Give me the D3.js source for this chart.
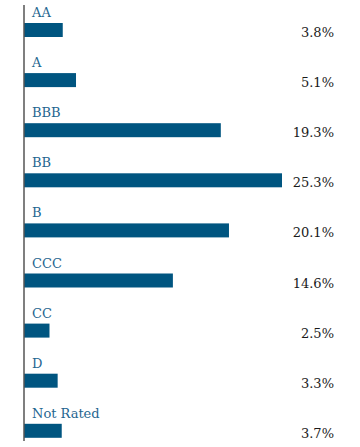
<!DOCTYPE html>
<html><head><meta charset="utf-8">
<script src="https://cdn.jsdelivr.net/npm/d3@7"></script>
<style>body{margin:0;background:#fff}svg{display:block}</style>
</head><body>
<script>
const categories = ["AA","A","BBB","BB","B","CCC","CC","D","Not Rated"];
const values = [3.8,5.1,19.3,25.3,20.1,14.6,2.5,3.3,3.7];
const valueLabels = ["3.8%","5.1%","19.3%","25.3%","20.1%","14.6%","2.5%","3.3%","3.7%"];

const W=360,H=447;
const svg=d3.select("body").append("svg").attr("width",W).attr("height",H);
const x0=24;
const x=d3.scaleLinear().domain([0,25.3]).range([x0,282]);
const y=d3.scaleBand().domain(categories).range([23-36,23+9*50.1-36]).paddingInner(0);
// band start so bar sits at bottom part of each band
const barH=14;
const g=svg.append("g");
categories.forEach((c,i)=>{
  const top=y(c)+36;
  g.append("rect").attr("x",x(0)).attr("y",top).attr("width",x(values[i])-x(0)).attr("height",barH)
    .attr("fill","#005580");
  g.append("text").attr("x",x0+8).attr("y",top-6).text(c)
    .attr("font-family","'DejaVu Serif', 'Liberation Serif', serif").attr("font-size",13)
    .attr("fill","#1f6690");
  g.append("text").attr("x",334).attr("y",top+14).attr("text-anchor","end").text(valueLabels[i])
    .attr("font-family","'DejaVu Serif', 'Liberation Serif', serif").attr("font-size",13)
    .attr("fill","#1a1a1a");
});
svg.append("line").attr("x1",x0).attr("x2",x0).attr("y1",5).attr("y2",441)
  .attr("stroke","#555").attr("stroke-width",1.5);
</script>
</body></html>
